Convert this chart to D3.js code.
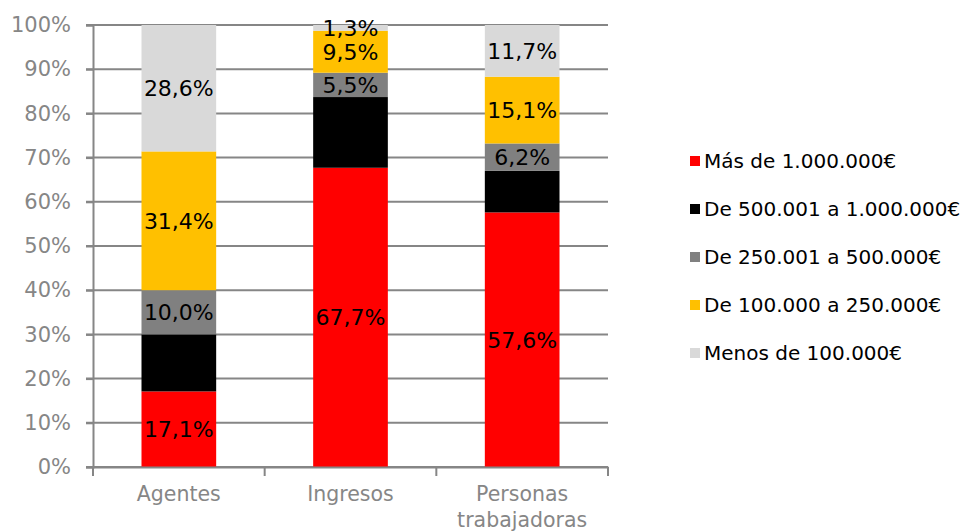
<!DOCTYPE html>
<html><head><meta charset="utf-8">
<script src="https://cdn.jsdelivr.net/npm/d3@7"></script>
<style>body{margin:0;background:#fff}text{font-family:"DejaVu Sans",Verdana,sans-serif}</style>
</head><body><svg id="c" width="960" height="531"></svg>
<script>
const categories = ["Agentes", "Ingresos", "Personas trabajadoras"];
const seriesNames = ["Más de 1.000.000€", "De 500.001 a 1.000.000€", "De 250.001 a 500.000€", "De 100.000 a 250.000€", "Menos de 100.000€"];
const seriesColors = ["#ff0000", "#000000", "#808080", "#ffc000", "#d9d9d9"];
const masDe1M = [17.1, 67.7, 57.6];
const de500k = [12.9, 16.0, 9.4];
const de250k = [10.0, 5.5, 6.2];
const de100k = [31.4, 9.5, 15.1];
const menos100k = [28.6, 1.3, 11.7];
const showLabel = [true, false, true, true, true];
const yTicks = [0,10,20,30,40,50,60,70,80,90,100];

const seriesVals = [masDe1M, de500k, de250k, de100k, menos100k];
const rows = categories.map((c,i)=>{const o={cat:c}; seriesNames.forEach((s,j)=>o[s]=seriesVals[j][i]); return o;});
const stack = d3.stack().keys(seriesNames)(rows);

const svg = d3.select("#c");
const L=93, R=608, T=25, B=467;
const x = d3.scaleBand().domain(categories).range([L,R]).paddingInner(0.565).paddingOuter(0.2825);
const y = d3.scaleLinear().domain([0,100]).range([B,T]);

svg.append("g").selectAll("line").data(yTicks).join("line")
  .attr("x1",L-7).attr("x2",R).attr("y1",d=>y(d)).attr("y2",d=>y(d))
  .attr("stroke","#868686").attr("stroke-width",2);

const g = svg.append("g");
stack.forEach((layer,j)=>{
  g.append("g").selectAll("rect").data(layer).join("rect")
    .attr("x",d=>x(d.data.cat)).attr("width",x.bandwidth())
    .attr("y",d=>y(d[1])).attr("height",d=>y(d[0])-y(d[1]))
    .attr("fill",seriesColors[j]);
});
stack.forEach((layer,j)=>{
  if(!showLabel[j]) return;
  g.append("g").selectAll("text").data(layer).join("text")
    .attr("x",d=>x(d.data.cat)+x.bandwidth()/2)
    .attr("y",d=>(y(d[0])+y(d[1]))/2)
    .attr("dy","0.36em").attr("text-anchor","middle")
    .attr("font-size",22).attr("fill","#000")
    .text(d=>(d[1]-d[0]).toFixed(1).replace(".",",")+"%");
});

const ya = svg.append("g").attr("transform",`translate(${L},0)`)
  .call(d3.axisLeft(y).tickValues(yTicks).tickSize(7).tickPadding(15).tickFormat(d=>d+"%"));
ya.select(".domain").attr("stroke","#868686").attr("stroke-width",2);
ya.selectAll(".tick line").attr("stroke","#868686").attr("stroke-width",2);
ya.selectAll("text").attr("font-size",21).attr("fill","#868686").attr("font-family","DejaVu Sans, Verdana, sans-serif");

const xa = svg.append("g").attr("transform",`translate(0,${B})`)
  .call(d3.axisBottom(x).tickSize(0).tickFormat(""));
xa.select(".domain").attr("stroke","#868686").attr("stroke-width",2);
const bounds=[L, ...categories.slice(1).map(c=>x(c)-x.step()*x.paddingInner()/2), R];
xa.append("g").selectAll("line").data(bounds).join("line")
  .attr("x1",d=>d).attr("x2",d=>d).attr("y1",0).attr("y2",9)
  .attr("stroke","#868686").attr("stroke-width",2);
categories.forEach(c=>{
  const t = xa.append("text").attr("text-anchor","middle").attr("fill","#868686")
    .attr("font-size",20.5).attr("font-family","DejaVu Sans, Verdana, sans-serif")
    .attr("x",x(c)+x.bandwidth()/2).attr("y",34);
  const words = c==="Personas trabajadoras" ? ["Personas","trabajadoras"] : [c];
  words.forEach((w,i)=>t.append("tspan").attr("x",x(c)+x.bandwidth()/2).attr("dy",i?26:0).text(w));
});

const lg = svg.append("g");
seriesNames.forEach((s,j)=>{
  const cy = 161 + j*48;
  lg.append("rect").attr("x",690).attr("y",cy-5).attr("width",10).attr("height",10).attr("fill",seriesColors[j]);
  lg.append("text").attr("x",704).attr("y",cy).attr("dy","0.36em").attr("font-size",20).attr("fill","#000").text(s);
});
</script></body></html>
